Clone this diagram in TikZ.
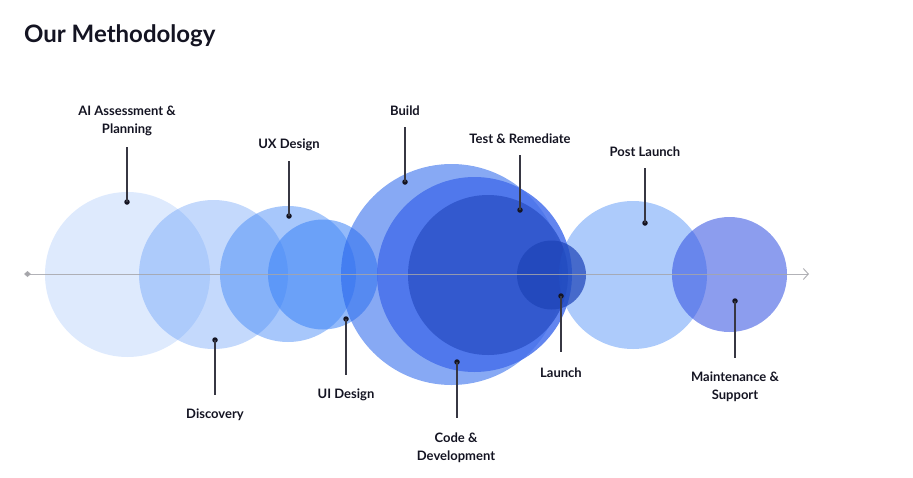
\documentclass[tikz,border=0pt]{standalone}
\usepackage{fontspec}
\setmainfont{Lato}
\usepackage{tikz}
\usetikzlibrary{arrows.meta}

\definecolor{skyblue}{RGB}{59,130,246}
\definecolor{royal}{RGB}{37,99,235}
\definecolor{cobalt}{RGB}{70,112,236}
\definecolor{deepblue}{RGB}{48,86,204}
\definecolor{navyblue}{RGB}{28,66,183}
\definecolor{violetblue}{RGB}{50,80,225}
\definecolor{ink}{RGB}{20,20,34}
\definecolor{axisgray}{RGB}{165,165,170}

\begin{document}
\begin{tikzpicture}[
        x=1pt, y=-1pt,
        bubble/.style={circle, inner sep=0pt, outer sep=0pt, minimum size=#1},
        dot/.style={circle, fill=ink, inner sep=0pt, minimum size=5.5pt},
        stem/.style={draw=ink!85, line width=1.2pt},
        lbl/.style={font=\bfseries\fontsize{13}{18}\selectfont, align=center, text=ink, inner sep=0pt},
        title/.style={font=\bfseries\fontsize{24}{28}\selectfont, text=ink, inner sep=0pt, anchor=base west}
    ]
    \useasboundingbox (0,0) rectangle (913,477);

    \node[title] (title) at (24,42) {Our Methodology};

    % circles, left to right
    \node[bubble=165, fill=skyblue, fill opacity=0.17] (ai) at (127.5,274.5) {};
    \node[bubble=149, fill=skyblue, fill opacity=0.30] (disc) at (213.5,274.5) {};
    \node[bubble=136, fill=skyblue, fill opacity=0.45] (ux) at (288,274) {};
    \node[bubble=110, fill=skyblue, fill opacity=0.55] (ui) at (323,274.5) {};
    \node[bubble=221, fill=royal, fill opacity=0.55] (build) at (451.5,274.5) {};
    \node[bubble=195, fill=cobalt, fill opacity=0.85] (code) at (474.5,274.5) {};
    \node[bubble=160, fill=deepblue, fill opacity=0.9] (test) at (488,275) {};
    \node[bubble=148, fill=skyblue, fill opacity=0.42] (post) at (633,275) {};
    \node[bubble=69, fill=navyblue, fill opacity=0.7] (launch) at (551.5,275) {};
    \node[bubble=115, fill=violetblue, fill opacity=0.56] (maint) at (729.5,274.5) {};

    % axis
    \coordinate (axisstart) at (24,274);
    \coordinate (axisend) at (809,274);
    \draw[axisgray, draw opacity=0.85, line width=1pt,
        {Diamond[length=7pt, width=6pt]}-{Straight Barb[length=5pt, width=11pt]}]
        (axisstart) -- (axisend);

    % markers
    \node[dot] (aidot) at (127,202) {};
    \node[dot] (discdot) at (215,340) {};
    \node[dot] (uxdot) at (289,216) {};
    \node[dot] (uidot) at (346,319) {};
    \node[dot] (builddot) at (405,182) {};
    \node[dot] (testdot) at (520,210) {};
    \node[dot] (codedot) at (457,362) {};
    \node[dot] (launchdot) at (561,296) {};
    \node[dot] (postdot) at (645,223) {};
    \node[dot] (maintdot) at (735,301) {};

    \coordinate (aiend) at (127,147);
    \coordinate (discend) at (215,395);
    \coordinate (uxend) at (289,161);
    \coordinate (uiend) at (346,375);
    \coordinate (buildend) at (405,127);
    \coordinate (testend) at (520,155);
    \coordinate (codeend) at (457,418);
    \coordinate (launchend) at (561,352);
    \coordinate (postend) at (645,168);
    \coordinate (maintend) at (735,358);

    \draw[stem] (aidot.center) -- (aiend);
    \draw[stem] (discdot.center) -- (discend);
    \draw[stem] (uxdot.center) -- (uxend);
    \draw[stem] (uidot.center) -- (uiend);
    \draw[stem] (builddot.center) -- (buildend);
    \draw[stem] (testdot.center) -- (testend);
    \draw[stem] (codedot.center) -- (codeend);
    \draw[stem] (launchdot.center) -- (launchend);
    \draw[stem] (postdot.center) -- (postend);
    \draw[stem] (maintdot.center) -- (maintend);

    % labels
    \node[lbl] (ailbl) at (127,120.5) {AI Assessment \&\\Planning};
    \node[lbl] (disclbl) at (215,415) {Discovery};
    \node[lbl] (uxlbl) at (289,144.5) {UX Design};
    \node[lbl] (uilbl) at (346,394.5) {UI Design};
    \node[lbl] (buildlbl) at (405,110.5) {Build};
    \node[lbl] (testlbl) at (520,138.5) {Test \& Remediate};
    \node[lbl] (codelbl) at (456,447.5) {Code \&\\Development};
    \node[lbl] (launchlbl) at (561,372.5) {Launch};
    \node[lbl] (postlbl) at (645,151.5) {Post Launch};
    \node[lbl] (maintlbl) at (735,386.5) {Maintenance \&\\Support};
\end{tikzpicture}
\end{document}
